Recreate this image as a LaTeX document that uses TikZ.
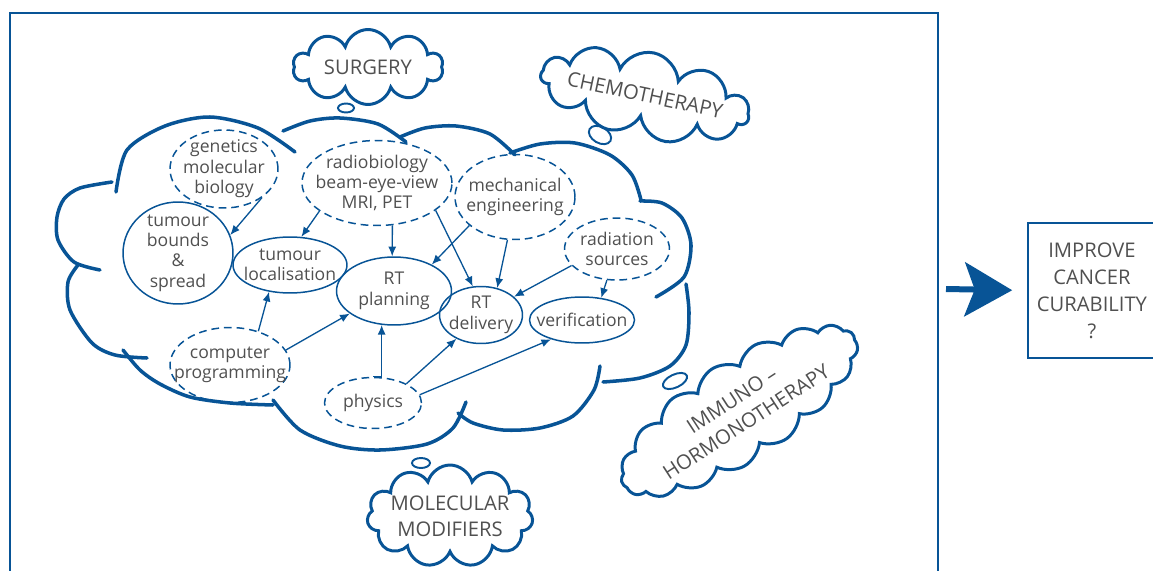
\documentclass[tikz,border=0pt]{standalone}
\usepackage{fontspec}
\setmainfont{Open Sans}
\usetikzlibrary{shapes.geometric,shapes.symbols,arrows.meta}
\definecolor{cloudblue}{RGB}{8,84,150}
\definecolor{textgray}{RGB}{80,80,80}

\begin{document}
\begin{tikzpicture}[x=0.02cm, y=-0.02cm]
% Estilos
\tikzstyle{solidell} = [ellipse, draw=cloudblue, line width=0.85pt, inner sep=-25pt, align=center, text=textgray, font=\fontsize{10}{11.6}\selectfont]
\tikzstyle{dashell} = [solidell, dash pattern=on 4.4pt off 2.8pt]
\tikzstyle{puff} = [cloud, draw=cloudblue, line width=1.7pt, cloud ignores aspect, inner sep=-20pt, align=center, text=textgray, font=\fontsize{11.5}{15}\selectfont]
\tikzstyle{flow} = [-{Latex[length=5.5pt,width=4.6pt]}, draw=cloudblue, line width=0.75pt]
\tikzstyle{bigcloud} = [draw=cloudblue, line width=2pt, line cap=round]
\tikzstyle{bubble} = [draw=cloudblue, line width=1.1pt]

\useasboundingbox (0,0) rectangle (1153,571);

% Frame
\draw[cloudblue, line width=0.9pt] (10,620) -- (10,13) -- (938,13) -- (938,620);

% Big cloud
\draw[bigcloud] plot[smooth] coordinates {(116,192) (127,150) (165,126) (210,117) (258,128) (295,152)};
\draw[bigcloud] plot[smooth] coordinates {(283,131) (310,121) (340,118) (378,124) (406,142)};
\draw[bigcloud] plot[smooth] coordinates {(400,137) (425,128) (456,126) (490,134) (515,155)};
\draw[bigcloud] plot[smooth] coordinates {(510,153) (540,144) (575,143) (610,155) (632,175) (641,200)};
\draw[bigcloud] plot[smooth] coordinates {(640,201) (662,203) (682,218) (691,245) (684,277) (656,297)};
\draw[bigcloud] plot[smooth] coordinates {(686,284) (689,312) (686,345) (670,366) (640,378) (603,382)};
\draw[bigcloud] plot[smooth] coordinates {(600,366) (594,390) (573,416) (540,428) (503,430) (473,423) (458,413)};
\draw[bigcloud] plot[smooth] coordinates {(466,402) (453,428) (427,444) (380,450) (340,446) (300,430) (273,400)};
\draw[bigcloud] plot[smooth] coordinates {(273,405) (230,403) (190,397) (160,384) (140,370) (123,350)};
\draw[bigcloud] plot[smooth] coordinates {(147,358) (115,355) (92,343) (70,310) (68,282) (78,265)};
\draw[bigcloud] plot[smooth] coordinates {(100,270) (74,262) (58,240) (57,217) (64,199) (80,188) (112,182)};

% Solid ellipses
\node[solidell, minimum width=2.2cm, minimum height=2.04cm] (bounds) at (178,253) {tumour\\bounds\\\&\\spread};
\node[solidell, minimum width=2.28cm, minimum height=1.12cm] (local) at (290,265) {tumour\\localisation};
\node[solidell, minimum width=2.3cm, minimum height=1.36cm] (planning) at (394,291) {RT\\planning};
\node[solidell, minimum width=1.66cm, minimum height=1.14cm] (delivery) at (481,315) {RT\\delivery};
\node[solidell, minimum width=2.1cm, minimum height=0.92cm] (verif) at (582,320) {verification};

% Dashed ellipses
\node[dashell, minimum width=2.16cm, minimum height=1.56cm] (genetics) at (224,169) {genetics\\molecular\\biology};
\node[dashell, minimum width=3.0cm, minimum height=1.7cm] (radiobio) at (377,183) {radiobiology\\beam-eye-view\\MRI, PET};
\node[dashell, minimum width=2.4cm, minimum height=1.7cm] (mech) at (515,197) {mechanical\\engineering};
\node[dashell, minimum width=2.1cm, minimum height=1.24cm] (sources) at (617,249) {radiation\\sources};
\node[dashell, minimum width=2.4cm, minimum height=1.5cm] (computer) at (230,365) {computer\\programming};
\node[dashell, minimum width=1.94cm, minimum height=1.02cm] (physics) at (373,403) {physics};

% Connections
\draw[flow] (genetics.-37) -- (bounds.19);
\draw[flow] (radiobio.-154) -- (local.68);
\draw[flow] (radiobio.-70) -- (planning.93);
\draw[flow] (radiobio.-25) -- (delivery.106);
\draw[flow] (mech.-148) -- (planning.35);
\draw[flow] (mech.-100) -- (delivery.59);
\draw[flow] (sources.-160) -- (delivery.29);
\draw[flow] (sources.-108) -- (verif.49);
\draw[flow] (computer.50) -- (local.-128);
\draw[flow] (computer.15) -- (planning.-153);
\draw[flow] (physics.north) -| (planning.-110);
\draw[flow] (physics.30) -- (delivery.-136);
\draw[flow] (physics.10) -- (verif.-148);

% Other therapies
\node[puff, cloud puffs=10, minimum width=3.0cm, minimum height=1.5cm] (surgery) at (368,67) {SURGERY};
\node[puff, cloud puffs=11, minimum width=4.24cm, minimum height=1.72cm, rotate=-12] (chemo) at (645,95) {CHEMOTHERAPY};
\node[puff, cloud puffs=17, cloud puff arc=110, minimum width=5.5cm, minimum height=2.0cm, rotate=33] (immuno) at (739,411) {IMMUNO --\\HORMONOTHERAPY};
\node[puff, cloud puffs=11, minimum width=3.32cm, minimum height=2.04cm] (modifiers) at (450,516) {MOLECULAR\\MODIFIERS};

% Thought bubbles
\draw[bubble] (346,108) ellipse [x radius=8, y radius=4.5];
\draw[bubble, rotate around={-30:(600,135)}] (600,135) ellipse [x radius=12, y radius=8];
\draw[bubble, rotate around={25:(675,381)}] (675,381) ellipse [x radius=13, y radius=6.5];
\draw[bubble] (421,463) ellipse [x radius=9, y radius=5];

% Result
\node[draw=cloudblue, line width=0.9pt, minimum width=2.56cm, minimum height=2.7cm, align=center, text=textgray, font=\fontsize{11.5}{15.3}\selectfont] (improve) at (1092,290.5) {IMPROVE\\CANCER\\CURABILITY\\?};
\coordinate (arrowtail) at (946,289);
\draw[-{Stealth[length=0.95cm,width=1.08cm,inset=0.2cm]}, line width=0.12cm, cloudblue, shorten >=0.3cm] (arrowtail) -- (improve.west);
\end{tikzpicture}
\end{document}
